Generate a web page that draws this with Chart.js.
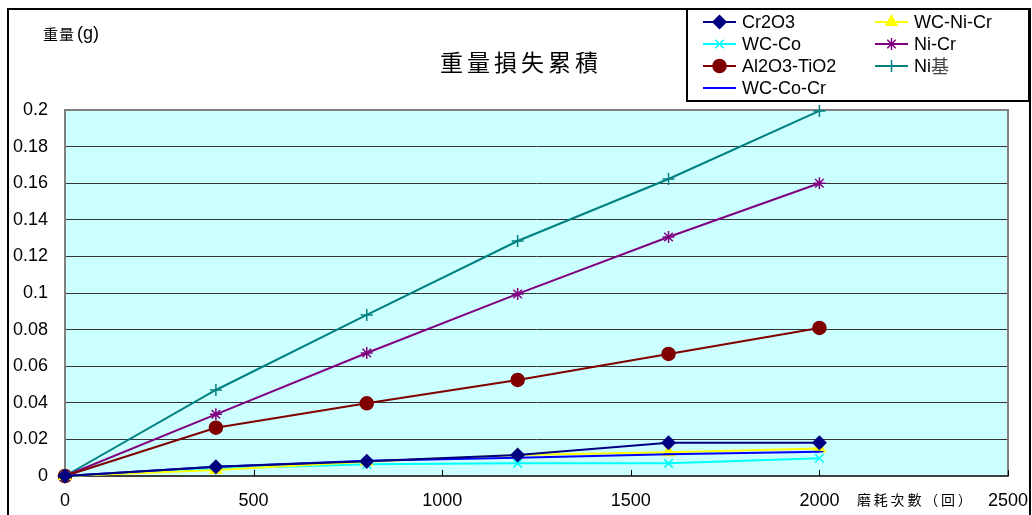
<!DOCTYPE html>
<html>
<head>
<meta charset="utf-8">
<script src="https://cdn.jsdelivr.net/npm/chart.js@4/dist/chart.umd.min.js"></script>
<style>
  html, body { margin: 0; padding: 0; background: #fff; }
  canvas { display: block; }
</style>
</head>
<body>
<canvas id="c" width="1032" height="515"></canvas>
<script>
// Abrasion cycles (回)
const cycles = [0, 400, 800, 1200, 1600, 2000];

// Cumulative weight loss (g) per coating
const cr2o3     = [0, 0.0050, 0.0080, 0.0115, 0.0182, 0.0182];
const wcCo      = [0, 0.0040, 0.0064, 0.0069, 0.0069, 0.0097];
const al2o3TiO2 = [0, 0.0264, 0.0397, 0.0525, 0.0667, 0.0809];
const wcCoCr    = [0, 0.0050, 0.0084, 0.0100, 0.0119, 0.0133];
const wcNiCr    = [0, 0.0033, 0.0078, 0.0115, 0.0130, 0.0150];
const niCr      = [0, 0.0337, 0.0672, 0.0995, 0.1306, 0.1600];
const niBase    = [0, 0.0470, 0.0880, 0.1284, 0.1623, 0.1995];

const seriesNames = ['Cr2O3', 'WC-Co', 'Al2O3-TiO2', 'WC-Co-Cr', 'WC-Ni-Cr', 'Ni-Cr', 'Ni基'];

const xTicks = [0, 500, 1000, 1500, 2000, 2500];
const yTicks = [0, 0.02, 0.04, 0.06, 0.08, 0.1, 0.12, 0.14, 0.16, 0.18, 0.2];

const chartTitle = '重量損失累積';
const yTitle = ['重量', '(g)'];
const xTitle = '磨耗次數（回）';

const toPoints = arr => arr.map((v, i) => ({ x: cycles[i], y: v }));

function series(label, data, color, pointStyle, radius, order) {
  return {
    label, data: toPoints(data),
    borderColor: color, backgroundColor: color,
    pointBorderColor: color, pointBackgroundColor: color,
    borderWidth: 2, pointStyle, pointRadius: radius, pointBorderWidth: 1.5,
    pointHoverRadius: radius, tension: 0, order, clip: false
  };
}

const datasets = [
  series(seriesNames[0], cr2o3,     '#000080', 'rectRot',  6.5, 1),
  series(seriesNames[1], wcCo,      '#00FFFF', 'crossRot', 6, 4),
  series(seriesNames[2], al2o3TiO2, '#800000', 'circle',   6.5, 5),
  series(seriesNames[3], wcCoCr,    '#0000FF', 'line',     4, 2),
  series(seriesNames[4], wcNiCr,    '#FFFF00', 'triangle', 6.5, 3),
  series(seriesNames[5], niCr,      '#800080', 'star',     6, 6),
  series(seriesNames[6], niBase,    '#008080', 'cross',    6, 7)
];

const SANS = '"Liberation Sans", Arial, sans-serif';
const CJK = '"Noto Sans CJK TC", "Noto Sans CJK JP", sans-serif';

function spacedText(ctx, text, x, y, step) {
  for (let i = 0; i < text.length; i++) ctx.fillText(text[i], x + i * step, y);
}

const decor = {
  id: 'decor',
  beforeDraw(chart) {
    const { ctx, chartArea: a } = chart;
    ctx.save();
    ctx.fillStyle = '#ffffff';
    ctx.fillRect(0, 0, chart.width, chart.height);
    ctx.fillStyle = '#CCFFFF';
    ctx.fillRect(a.left, a.top, a.right - a.left, a.bottom - a.top);
    ctx.restore();
  },
  beforeDatasetsDraw(chart) {
    const { ctx, chartArea: a, scales } = chart;
    ctx.save();
    // plot frame
    ctx.strokeStyle = '#808080';
    ctx.lineWidth = 2;
    ctx.strokeRect(a.left, a.top, a.right - a.left, a.bottom - a.top);
    // bottom axis line
    ctx.strokeStyle = '#404040';
    ctx.beginPath();
    ctx.moveTo(a.left, a.bottom); ctx.lineTo(a.right, a.bottom);
    ctx.stroke();
    // inward tick marks on the cycle axis
    ctx.strokeStyle = '#000';
    ctx.lineWidth = 1;
    xTicks.forEach(v => {
      const px = Math.round(scales.x.getPixelForValue(v)) + 0.5;
      ctx.beginPath();
      ctx.moveTo(px, a.bottom); ctx.lineTo(px, a.bottom - 6);
      ctx.stroke();
    });
    ctx.restore();
  },
  afterDraw(chart) {
    const { ctx } = chart;
    ctx.save();
    // outer frame
    ctx.strokeStyle = '#000';
    ctx.lineWidth = 2;
    ctx.beginPath();
    ctx.moveTo(8, 530); ctx.lineTo(8, 9); ctx.lineTo(1030, 9); ctx.lineTo(1030, 530);
    ctx.stroke();

    // title
    ctx.fillStyle = '#000';
    ctx.textBaseline = 'middle';
    ctx.textAlign = 'left';
    ctx.font = '23px ' + CJK;
    spacedText(ctx, chartTitle, 440, 62, 27);

    // y axis title
    ctx.font = '15px ' + CJK;
    spacedText(ctx, yTitle[0], 43, 34, 16);
    ctx.font = '18px ' + SANS;
    ctx.fillText(yTitle[1], 77, 34);

    // x axis title
    ctx.font = '14px ' + CJK;
    spacedText(ctx, xTitle, 857, 500, 16.8);

    // legend box
    ctx.fillStyle = '#fff';
    ctx.fillRect(687, 9, 342, 92);
    ctx.strokeStyle = '#000';
    ctx.lineWidth = 2;
    ctx.strokeRect(687, 9, 342, 92);

    const rows = [22, 44, 66, 88];
    chart.data.datasets.forEach((ds, i) => {
      const col = i < 4 ? 0 : 1;
      const row = i < 4 ? i : i - 4;
      const x0 = col === 0 ? 703 : 875;
      const tx = col === 0 ? 742 : 914;
      const y = rows[row];
      ctx.strokeStyle = ds.borderColor;
      ctx.fillStyle = ds.backgroundColor;
      ctx.lineWidth = 2;
      ctx.beginPath();
      ctx.moveTo(x0, y); ctx.lineTo(x0 + 33, y);
      ctx.stroke();
      ctx.lineWidth = 1.5;
      Chart.helpers.drawPoint(ctx, {
        pointStyle: ds.pointStyle, radius: ds.pointRadius, rotation: 0, borderWidth: 1.5
      }, x0 + 16.5, y);
      ctx.fillStyle = '#000';
      ctx.textAlign = 'left';
      ctx.textBaseline = 'middle';
      const name = ds.label;
      if (/[\u4e00-\u9fff]/.test(name)) {
        const ascii = name.replace(/[\u4e00-\u9fff]/g, '');
        const han = name.replace(/[^\u4e00-\u9fff]/g, '');
        ctx.font = '18px ' + SANS;
        ctx.fillText(ascii, tx, y + 1);
        const w = ctx.measureText(ascii).width;
        ctx.font = '18px ' + CJK;
        ctx.fillStyle = '#444';
        ctx.fillText(han, tx + w, y);
      } else {
        ctx.font = '18px ' + SANS;
        ctx.fillText(name, tx, y + 1);
      }
    });
    ctx.restore();
  }
};

new Chart(document.getElementById('c'), {
  type: 'line',
  data: { datasets },
  plugins: [decor],
  options: {
    responsive: false,
    animation: false,
    devicePixelRatio: 1,
    layout: { padding: { top: 110, right: 24, left: 0, bottom: 0 } },
    plugins: { legend: { display: false }, title: { display: false }, tooltip: { enabled: false } },
    scales: {
      x: {
        type: 'linear', min: 0, max: 2500,
        afterFit(s) { s.height = 39; s.paddingLeft = 0; s.paddingRight = 0; },
        afterBuildTicks(s) { s.ticks = xTicks.map(v => ({ value: v })); },
        ticks: {
          color: '#000', font: { family: SANS, size: 18 }, padding: 14, maxRotation: 0,
          callback: v => String(v)
        },
        grid: { drawOnChartArea: false, drawTicks: false },
        border: { display: false }
      },
      y: {
        min: 0, max: 0.2,
        afterFit(s) { s.width = 65; s.paddingTop = 0; s.paddingBottom = 0; },
        afterBuildTicks(s) { s.ticks = yTicks.map(v => ({ value: v })); },
        ticks: {
          color: '#000', font: { family: SANS, size: 18 }, padding: 17,
          callback: v => String(Number(v.toFixed(2)))
        },
        grid: { color: '#333333', lineWidth: 1, drawTicks: false },
        border: { display: false }
      }
    }
  }
});
</script>
</body>
</html>
